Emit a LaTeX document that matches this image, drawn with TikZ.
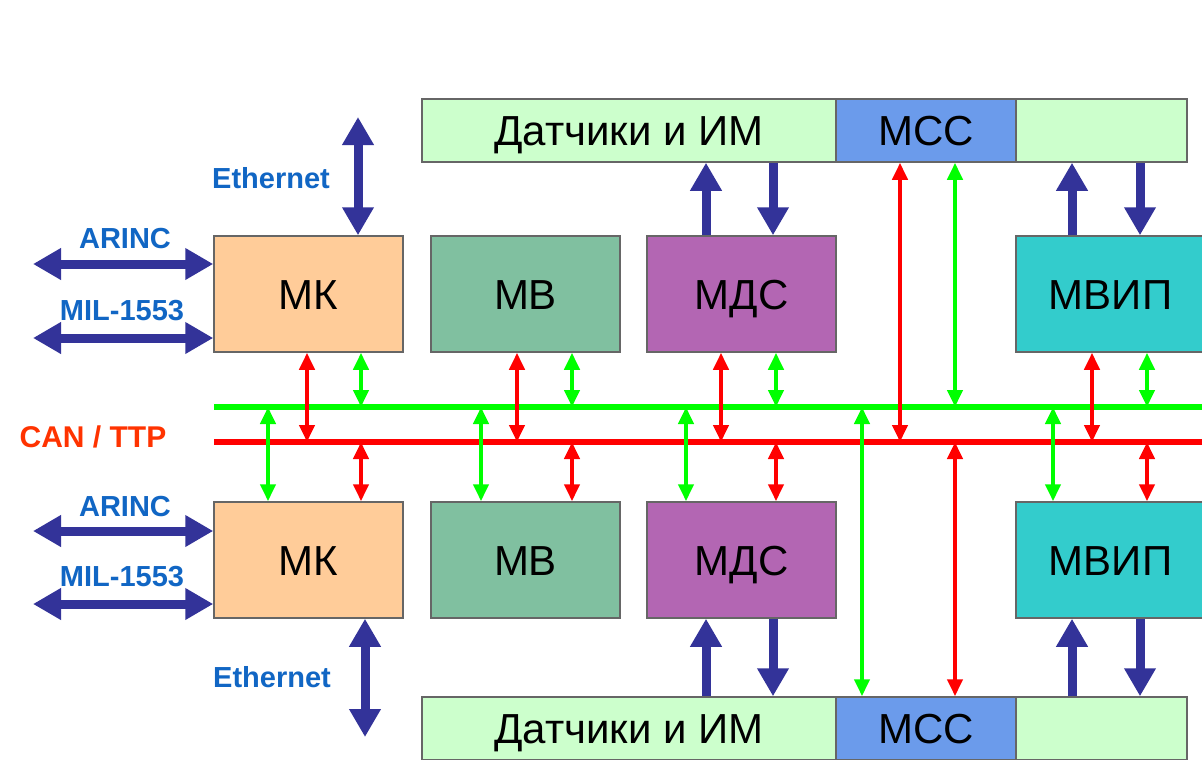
\documentclass[tikz,border=0pt]{standalone}
\usepackage{fontspec}
\setmainfont{Liberation Sans}
\usetikzlibrary{arrows.meta}
\definecolor{mkc}{HTML}{FFCC99}
\definecolor{mvc}{HTML}{80C0A0}
\definecolor{mdsc}{HTML}{B366B3}
\definecolor{mvipc}{HTML}{33CCCC}
\definecolor{mssc}{HTML}{6B9BEB}
\definecolor{ltg}{HTML}{CCFFCC}
\definecolor{bordc}{HTML}{666666}
\definecolor{lblue}{HTML}{1166C4}
\definecolor{darr}{HTML}{333399}
\definecolor{canc}{HTML}{FF3300}
\definecolor{busr}{HTML}{FF0000}
\definecolor{busg}{HTML}{00FF00}
\tikzset{
  modbox/.style={draw=bordc, line width=1.5pt, minimum width=189pt, minimum height=116pt, inner sep=0pt, text height=30pt, text depth=0pt, font=\fontsize{42}{50}\selectfont},
  barbox/.style={draw=bordc, line width=1.5pt, minimum height=63pt, inner sep=0pt, text height=30pt, text depth=0pt, font=\fontsize{42}{50}\selectfont},
  lbl/.style={text=lblue, font=\fontsize{29}{34}\selectfont\bfseries, inner sep=0pt},
  bus/.style={line width=6pt},
  rarr/.style={busr, line width=4pt, {Triangle[width=15pt,length=17pt]}-{Triangle[width=15pt,length=17pt]}},
  garr/.style={busg, line width=4pt, {Triangle[width=15pt,length=17pt]}-{Triangle[width=15pt,length=17pt]}},
  bdbl/.style={darr, line width=9pt, {Triangle[width=30pt,length=28pt]}-{Triangle[width=30pt,length=28pt]}},
  bone/.style={darr, line width=9pt, -{Triangle[width=30pt,length=28pt]}}
}
\begin{document}
\begin{tikzpicture}[x=1pt,y=-1pt]
\useasboundingbox (0,0) rectangle (1202,760);
\fill[white] (0,0) rectangle (1202,760);
% buses
\coordinate (gL) at (214,407);
\coordinate (gR) at (1210,407);
\coordinate (rL) at (214,442);
\coordinate (rR) at (1210,442);
\draw[bus, busg] (gL) -- (gR);
\draw[bus, busr] (rL) -- (rR);
% top bar
\node[barbox, fill=ltg, minimum width=414pt] (dt) at (629,130.5) {Датчики и ИМ};
\node[barbox, fill=mssc, minimum width=180pt] (mt) at (926,130.5) {МСС};
\node[barbox, fill=ltg, minimum width=171pt] (rt) at (1101.5,130.5) {};
% bottom bar
\node[barbox, fill=ltg, minimum width=414pt] (db) at (629,728.5) {Датчики и ИМ};
\node[barbox, fill=mssc, minimum width=180pt] (mb) at (926,728.5) {МСС};
\node[barbox, fill=ltg, minimum width=171pt] (rb) at (1101.5,728.5) {};
% upper modules
\node[modbox, fill=mkc] (mk1) at (308.5,294) {МК};
\node[modbox, fill=mvc] (mv1) at (525.5,294) {МВ};
\node[modbox, fill=mdsc] (mds1) at (741.5,294) {МДС};
\node[modbox, fill=mvipc] (mvip1) at (1110.5,294) {МВИП};
% lower modules
\node[modbox, fill=mkc] (mk2) at (308.5,560) {МК};
\node[modbox, fill=mvc] (mv2) at (525.5,560) {МВ};
\node[modbox, fill=mdsc] (mds2) at (741.5,560) {МДС};
\node[modbox, fill=mvipc] (mvip2) at (1110.5,560) {МВИП};
% labels
\node[lbl] (eth1) at (271,178) {Ethernet};
\node[lbl] (ar1) at (125,239) {ARINC};
\node[lbl] (mil1) at (122,311) {MIL-1553};
\node[lbl] (ar2) at (125,507) {ARINC};
\node[lbl] (mil2) at (122,577) {MIL-1553};
\node[lbl] (eth2) at (272,677) {Ethernet};
\node[text=canc, font=\fontsize{30}{34}\selectfont\bfseries, inner sep=0pt] (can) at (93,437) {CAN / TTP};
% external blue arrows
\coordinate (e1) at (358,117);
\coordinate (e2) at (365,737);
\coordinate (a1) at (33,264);
\coordinate (m1) at (33,338);
\coordinate (a2) at (33,531);
\coordinate (m2) at (33,604);
\draw[bdbl] (e1) -- (e1 |- mk1.north);
\draw[bdbl] (a1) -- (a1 -| mk1.west);
\draw[bdbl] (m1) -- (m1 -| mk1.west);
\draw[bdbl] (a2) -- (a2 -| mk2.west);
\draw[bdbl] (m2) -- (m2 -| mk2.west);
\draw[bdbl] (e2 |- mk2.south) -- (e2);
% upper module <-> buses
\foreach \b/\xr/\xg in {mk1/307/361, mv1/517/572, mds1/721/776, mvip1/1092/1147}{
  \draw[rarr] (\xr,0 |- \b.south) -- (\xr,0 |- rL);
  \draw[garr] (\xg,0 |- \b.south) -- (\xg,0 |- gL);
}
% lower module <-> buses
\foreach \b/\xg/\xr in {mk2/268/361, mv2/481/572, mds2/686/776, mvip2/1053/1147}{
  \draw[garr] (\xg,0 |- gL) -- (\xg,0 |- \b.north);
  \draw[rarr] (\xr,0 |- rL) -- (\xr,0 |- \b.north);
}
% MSS <-> buses
\draw[rarr] (900,0 |- mt.south) -- (900,0 |- rL);
\draw[garr] (955,0 |- mt.south) -- (955,0 |- gL);
\draw[garr] (862,0 |- gL) -- (862,0 |- mb.north);
\draw[rarr] (955,0 |- rL) -- (955,0 |- mb.north);
% blue arrows to sensor bars
\draw[bone] (706,0 |- mds1.north) -- (706,0 |- dt.south);
\draw[bone] (773,0 |- dt.south) -- (773,0 |- mds1.north);
\draw[bone] (1072,0 |- mvip1.north) -- (1072,0 |- rt.south);
\draw[bone] (1140,0 |- rt.south) -- (1140,0 |- mvip1.north);
\draw[bone] (706,0 |- db.north) -- (706,0 |- mds2.south);
\draw[bone] (773,0 |- mds2.south) -- (773,0 |- db.north);
\draw[bone] (1072,0 |- rb.north) -- (1072,0 |- mvip2.south);
\draw[bone] (1140,0 |- mvip2.south) -- (1140,0 |- rb.north);
\end{tikzpicture}
\end{document}
